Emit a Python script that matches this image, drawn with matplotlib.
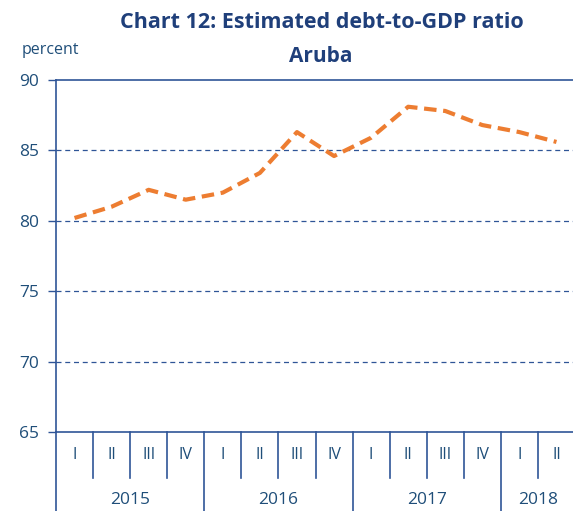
import matplotlib.pyplot as plt
import matplotlib.transforms as mtransforms

# Quarterly debt-to-GDP ratio (percent)
quarters = ["I", "II", "III", "IV", "I", "II", "III", "IV", "I", "II", "III", "IV", "I", "II"]
years = ["2015", "2016", "2017", "2018"]
year_counts = [4, 4, 4, 2]
ratio = [80.2, 81.0, 82.2, 81.5, 82.0, 83.4, 86.3, 84.6, 85.9, 88.1, 87.8, 86.8, 86.3, 85.6]
yticks = [65, 70, 75, 80, 85, 90]

blue = "#2F5597"
text_blue = "#1F4E79"
title_blue = "#1F3F7A"
orange = "#ED7D31"

plt.rcParams["font.family"] = ["Open Sans", "DejaVu Sans"]

fig = plt.figure(figsize=(5.73, 5.11), dpi=100)
ax = fig.add_axes([56 / 573, 79 / 511, 519 / 573, 352 / 511])

x = list(range(len(ratio)))
ax.plot(x, ratio, color=orange, linestyle=(0, (3, 1.6)), linewidth=3, zorder=3)

ax.set_xlim(-0.5, len(ratio) - 0.5)
ax.set_ylim(65, 90)
ax.set_yticks(yticks)
ax.set_yticklabels([str(v) for v in yticks], fontsize=12.5, color=text_blue)
ax.tick_params(axis="y", length=6, width=1, color=blue, pad=6)
ax.set_xticks([])

for v in yticks[1:-1]:
    ax.axhline(v, color=blue, linestyle=(0, (4, 3)), linewidth=0.9, zorder=1)

ax.spines["right"].set_visible(False)
for side in ["left", "top", "bottom"]:
    ax.spines[side].set_color(blue)
    ax.spines[side].set_linewidth(1.2)

# Category axis: quarters and years drawn below the plot
trans = mtransforms.blended_transform_factory(ax.transData, ax.transAxes)
row = 46 / 352
for i, q in enumerate(quarters):
    ax.text(i, -row / 2, q, transform=trans, ha="center", va="center",
            fontsize=11.5, color=text_blue)

boundaries = [-0.5]
for c in year_counts:
    boundaries.append(boundaries[-1] + c)
year_edges = set(boundaries)

for i in range(len(quarters)):
    edge = i - 0.5
    bottom = -80 / 352 if edge in year_edges else -row
    ax.plot([edge, edge], [0, bottom], transform=trans, color=blue,
            linewidth=1.2, clip_on=False)

for y, a, b in zip(years, boundaries[:-1], boundaries[1:]):
    ax.text((a + b) / 2, -row - 22 / 352, y, transform=trans, ha="center",
            va="center", fontsize=12.5, color=text_blue)

fig.text(322 / 573, 1 - 22 / 511, "Chart 12: Estimated debt-to-GDP ratio",
         ha="center", va="center", fontsize=15.5, fontweight="bold", color=title_blue)
fig.text(321 / 573, 1 - 57 / 511, "Aruba", ha="center", va="center",
         fontsize=15, fontweight="bold", color=title_blue)
fig.text(50 / 573, 1 - 50 / 511, "percent", ha="center", va="center",
         fontsize=11.5, color=text_blue)

fig.savefig("out.png", dpi=100)
